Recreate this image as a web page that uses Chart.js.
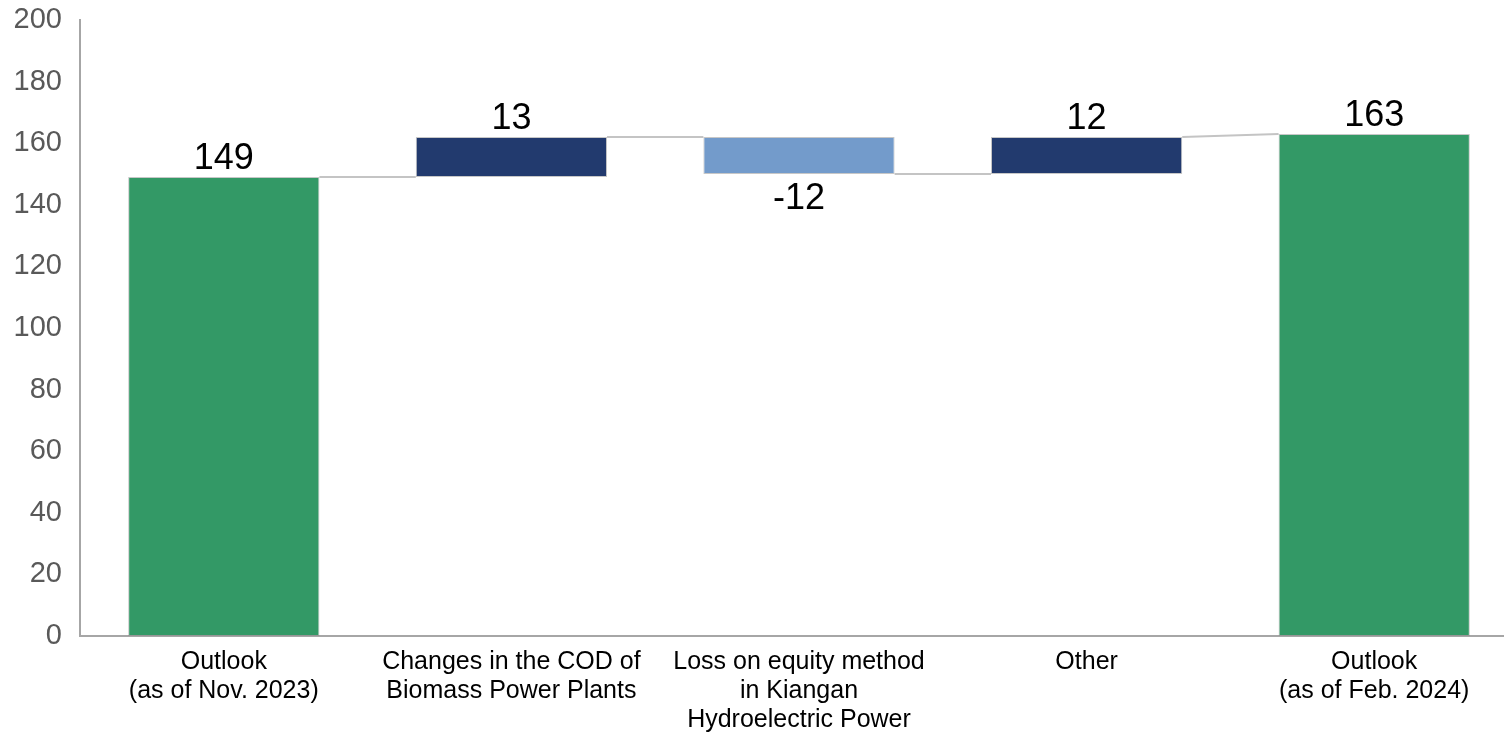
<!DOCTYPE html>
<html>
<head>
<meta charset="utf-8">
<script src="https://cdn.jsdelivr.net/npm/chart.js@4"></script>
<style>
  body { margin: 0; background: #fff; overflow: hidden; }
  #wrap { position: relative; width: 1518px; height: 734px; }
</style>
</head>
<body>
<div id="wrap"><canvas id="waterfall"></canvas></div>
<script>
// chart data
const categories = [
  ["Outlook", "(as of Nov. 2023)"],
  ["Changes in the COD of", "Biomass Power Plants"],
  ["Loss on equity method", "in Kiangan", "Hydroelectric Power"],
  "Other",
  ["Outlook", "(as of Feb. 2024)"]
];
const values = [149, 13, -12, 12, 163];
const isTotal = [true, false, false, false, true];
const yMin = 0;
const yMax = 200;
const yStep = 20;

const GREEN = "#339966";
const NAVY = "#223a6e";
const LIGHT = "#739bcb";
const FONT = "'Liberation Sans', Arial, sans-serif";

// floating ranges for the waterfall
let running = 0;
const ranges = values.map((v, i) => {
  if (isTotal[i]) {
    running = v;
    return [0, v];
  }
  const r = [running, running + v];
  running += v;
  return r;
});
const barColors = values.map((v, i) => isTotal[i] ? GREEN : (v >= 0 ? NAVY : LIGHT));

// lines between neighbouring bars
const connectors = {
  id: "connectors",
  beforeDatasetsDraw(chart) {
    const ctx = chart.ctx;
    const y = chart.scales.y;
    const bars = chart.getDatasetMeta(0).data;
    ctx.save();
    ctx.strokeStyle = "#c4c4c4";
    ctx.lineWidth = 2;
    for (let i = 0; i < bars.length - 1; i++) {
      const a = bars[i], b = bars[i + 1];
      const from = ranges[i][1];
      const to = isTotal[i + 1] ? ranges[i + 1][1] : from;
      ctx.beginPath();
      ctx.moveTo(a.x + a.width / 2, y.getPixelForValue(from));
      ctx.lineTo(b.x - b.width / 2, y.getPixelForValue(to));
      ctx.stroke();
    }
    ctx.restore();
  }
};

// value labels above / below the bars
const valueLabels = {
  id: "valueLabels",
  afterDatasetsDraw(chart) {
    const ctx = chart.ctx;
    const bars = chart.getDatasetMeta(0).data;
    ctx.save();
    ctx.font = "36px " + FONT;
    ctx.fillStyle = "#000";
    ctx.textAlign = "center";
    ctx.textBaseline = "alphabetic";
    bars.forEach((bar, i) => {
      const top = Math.min(bar.y, bar.base);
      const bottom = Math.max(bar.y, bar.base);
      if (values[i] >= 0) {
        ctx.fillText(String(values[i]), bar.x, top - 8);
      } else {
        ctx.fillText(String(values[i]), bar.x, bottom + 9 + 26);
      }
    });
    ctx.restore();
  }
};

new Chart(document.getElementById("waterfall"), {
  type: "bar",
  data: {
    labels: categories,
    datasets: [{
      data: ranges,
      backgroundColor: barColors,
      borderColor: "rgba(130,130,130,0.45)",
      borderWidth: 1,
      borderSkipped: false,
      categoryPercentage: 1,
      barPercentage: 0.665
    }]
  },
  options: {
    responsive: true,
    maintainAspectRatio: false,
    animation: false,
    layout: { padding: { top: 20, right: 0, bottom: 0, left: 0 } },
    plugins: {
      legend: { display: false },
      tooltip: { enabled: false }
    },
    scales: {
      x: {
        grid: { display: false, drawTicks: false },
        border: { display: true, color: "#a6a6a6", width: 2 },
        ticks: {
          color: "#000",
          padding: 12,
          maxRotation: 0,
          autoSkip: false,
          font: { family: FONT, size: 25, lineHeight: 1.16 }
        },
        afterFit(scale) { scale.height = 98; }
      },
      y: {
        min: yMin,
        max: yMax,
        grid: { display: false, drawTicks: false },
        border: { display: true, color: "#a6a6a6", width: 2 },
        ticks: {
          stepSize: yStep,
          color: "#595959",
          padding: 18,
          font: { family: FONT, size: 29 }
        },
        afterFit(scale) {
          scale.width = 80;
          scale.paddingTop = 0;
          scale.paddingBottom = 0;
        }
      }
    }
  },
  plugins: [connectors, valueLabels]
});
</script>
</body>
</html>
